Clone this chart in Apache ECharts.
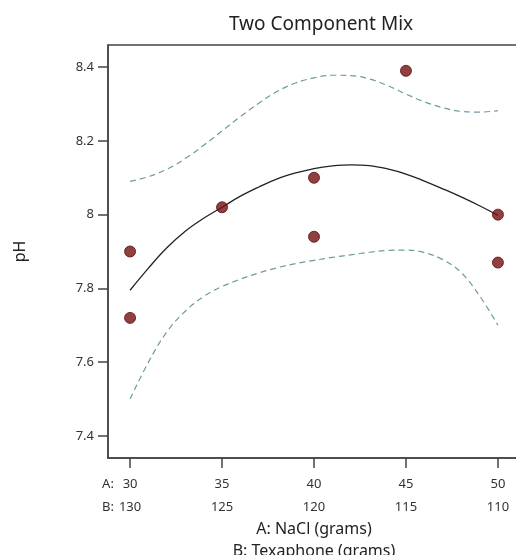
<!DOCTYPE html>
<html>
<head>
<meta charset="utf-8">
<script src="https://cdn.jsdelivr.net/npm/echarts@6/dist/echarts.min.js"></script>
<style>
  html, body { margin: 0; padding: 0; background: #fff; }
  #chart { width: 516px; height: 555px; }
</style>
</head>
<body>
<div id="chart"></div>
<script>
// tick labels
var aTicks = [30, 35, 40, 45, 50];
var bTicks = [130, 125, 120, 115, 110];
var yTicks = [7.4, 7.6, 7.8, 8.0, 8.2, 8.4];

// observed runs
var obsA = [30, 30, 35, 40, 40, 45, 50, 50];
var obsPH = [7.90, 7.72, 8.02, 8.10, 7.94, 8.39, 8.00, 7.87];

// fitted curve and confidence band
var curveA = [30, 31, 32, 33, 34, 35, 36, 37, 38, 39, 40, 41, 42, 43, 44, 45, 46, 47, 48, 49, 50];
var fitPH = [7.795, 7.855, 7.91, 7.955, 7.99, 8.02, 8.05, 8.075, 8.097, 8.113, 8.125, 8.132, 8.135, 8.133, 8.124, 8.11, 8.091, 8.07, 8.048, 8.024, 7.998];
var upperPH = [8.09, 8.103, 8.123, 8.152, 8.188, 8.227, 8.266, 8.302, 8.334, 8.357, 8.371, 8.378, 8.377, 8.368, 8.35, 8.327, 8.306, 8.29, 8.28, 8.278, 8.282];
var lowerPH = [7.50, 7.60, 7.682, 7.738, 7.778, 7.805, 7.825, 7.842, 7.856, 7.867, 7.876, 7.884, 7.891, 7.898, 7.903, 7.904, 7.897, 7.878, 7.843, 7.78, 7.70];

function pairs(xs, ys) {
  return xs.map(function (x, i) { return [x, ys[i]]; });
}

var myChart = echarts.init(document.getElementById('chart'), null, { renderer: 'canvas' });

var font = 'Noto Sans';
var bandStyle = { color: '#6b9c9e', width: 1.2, type: [6, 4] };

var option = {
  animation: false,
  textStyle: { fontFamily: font },
  title: {
    text: 'Two Component Mix',
    left: 316,
    top: 10,
    textAlign: 'center',
    textStyle: { fontFamily: font, fontSize: 19, fontWeight: 'normal', color: '#222' }
  },
  grid: {
    left: 108,
    right: -4,
    top: 45,
    bottom: 97,
    outerBoundsMode: 'none',
    containLabel: false,
    show: true,
    borderColor: '#444',
    borderWidth: 1.5
  },
  xAxis: {
    type: 'value',
    min: 28.8,
    max: 51.2,
    name: 'A: NaCl (grams)\nB: Texaphone (grams)',
    nameLocation: 'middle',
    nameGap: 56,
    nameTextStyle: { fontFamily: font, fontSize: 16, color: '#222', lineHeight: 22 },
    splitLine: { show: false },
    axisLine: { lineStyle: { color: '#444', width: 1.5 } },
    axisTick: { length: 10, customValues: aTicks, lineStyle: { color: '#444', width: 1.5 } },
    axisLabel: {
      customValues: aTicks,
      margin: 15,
      color: '#333',
      formatter: function (v) {
        var i = aTicks.indexOf(v);
        var pa = i === 0 ? 'A:' : '';
        var pb = i === 0 ? 'B:' : '';
        return '{p|' + pa + '}{n|' + v + '}{q|}\n{p|' + pb + '}{n|' + bTicks[i] + '}{q|}';
      },
      rich: {
        p: { width: 14, align: 'left', fontSize: 13, color: '#333', lineHeight: 23, fontFamily: font },
        n: { width: 28, align: 'center', fontSize: 13, color: '#333', lineHeight: 23, fontFamily: font },
        q: { width: 14, fontSize: 13, lineHeight: 23 }
      }
    }
  },
  yAxis: {
    type: 'value',
    min: 7.34,
    max: 8.46,
    name: 'pH',
    nameLocation: 'middle',
    nameGap: 80,
    nameTextStyle: { fontFamily: font, fontSize: 16, color: '#222' },
    splitLine: { show: false },
    axisLine: { show: true, lineStyle: { color: '#444', width: 1.5 } },
    axisTick: { show: true, length: 10, customValues: yTicks, lineStyle: { color: '#444', width: 1.5 } },
    axisLabel: {
      customValues: yTicks,
      margin: 14,
      fontSize: 13,
      color: '#333',
      fontFamily: font
    }
  },
  series: [
    {
      name: 'Upper',
      type: 'line',
      data: pairs(curveA, upperPH),
      smooth: 0.4,
      showSymbol: false,
      lineStyle: bandStyle,
      z: 2
    },
    {
      name: 'Lower',
      type: 'line',
      data: pairs(curveA, lowerPH),
      smooth: 0.4,
      showSymbol: false,
      lineStyle: bandStyle,
      z: 2
    },
    {
      name: 'Fit',
      type: 'line',
      data: pairs(curveA, fitPH),
      smooth: 0.4,
      showSymbol: false,
      lineStyle: { color: '#222', width: 1.3 },
      z: 3
    },
    {
      name: 'Runs',
      type: 'scatter',
      data: pairs(obsA, obsPH),
      symbolSize: 11,
      itemStyle: { color: '#761012', borderColor: '#5a0a0c', borderWidth: 1 },
      z: 4
    }
  ]
};
myChart.setOption(option);
</script>
</body>
</html>
